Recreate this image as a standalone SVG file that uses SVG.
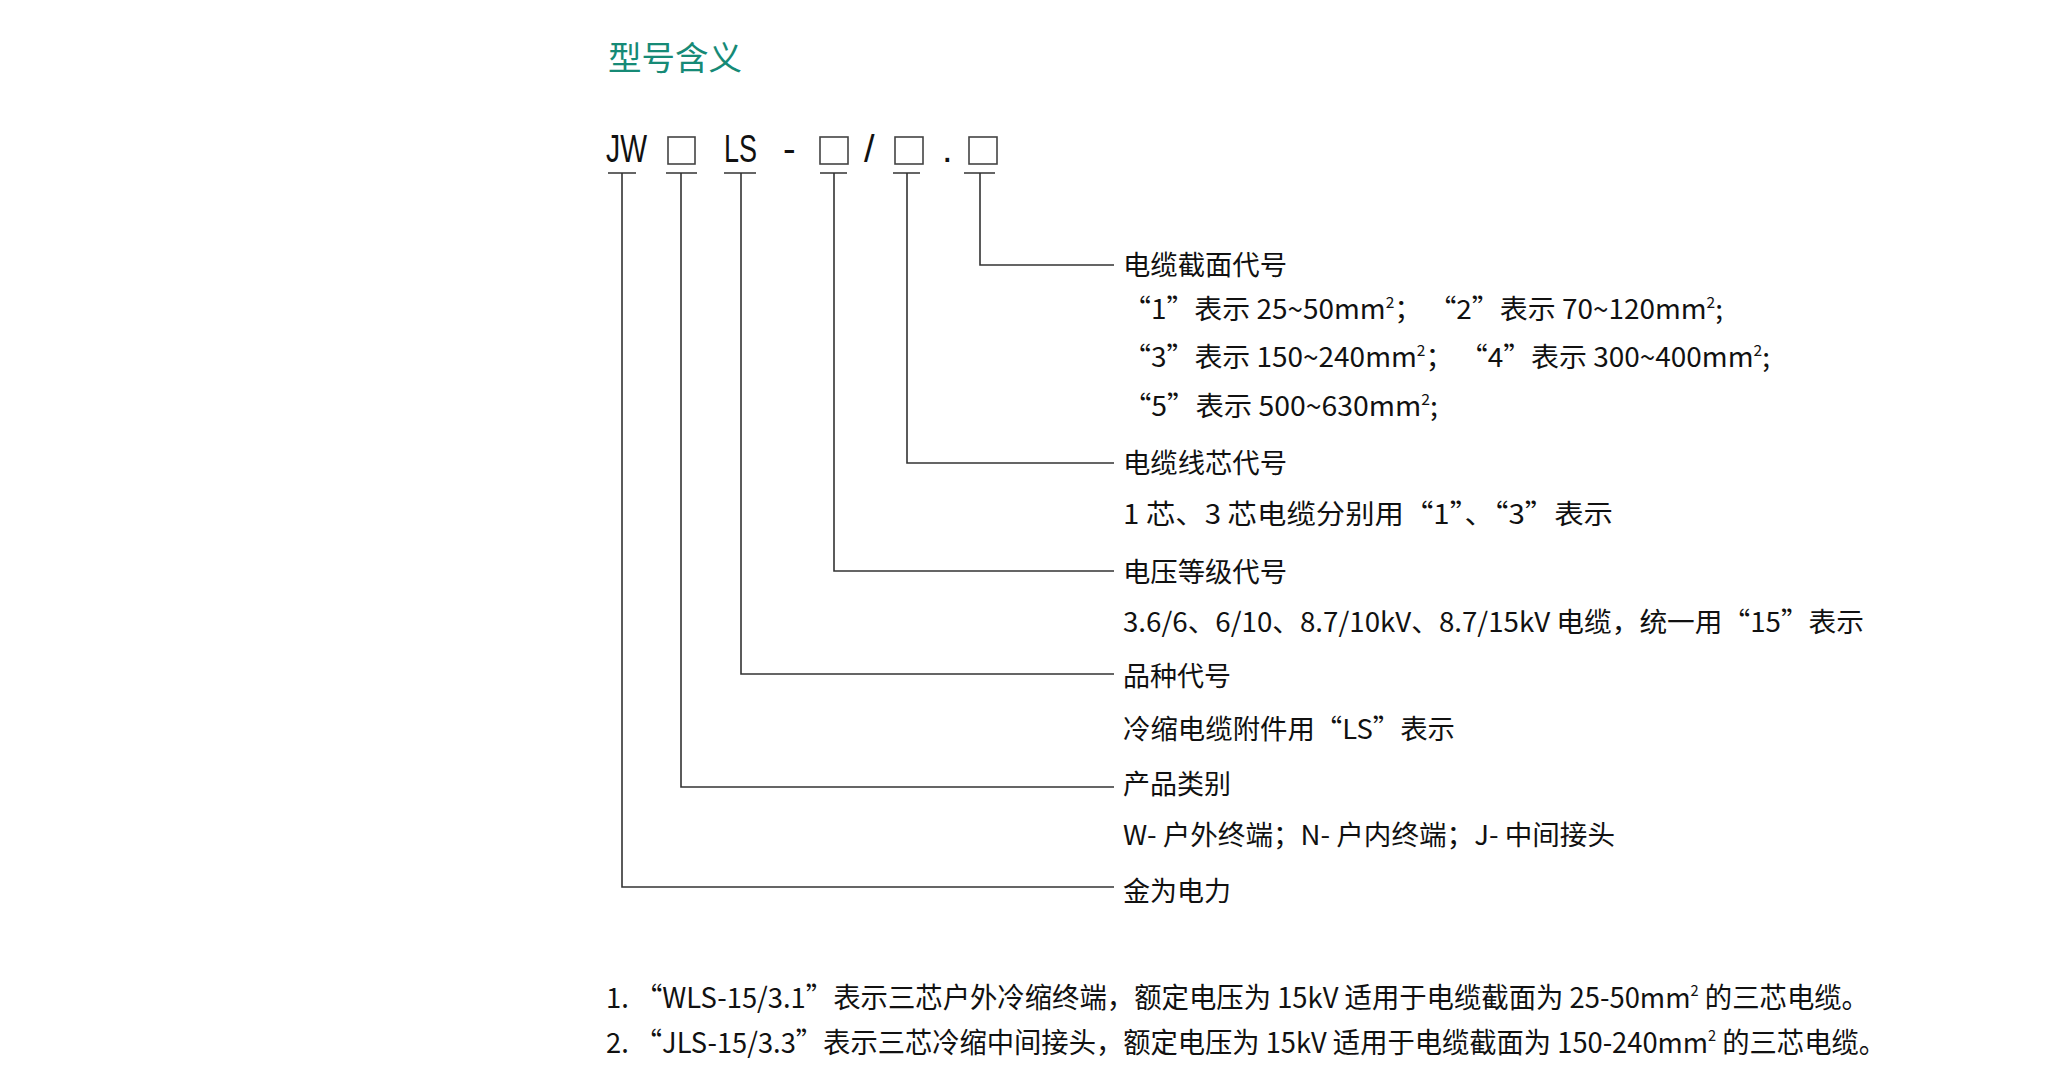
<svg xmlns="http://www.w3.org/2000/svg" width="2067" height="1079" viewBox="0 0 2067 1079">
<style>
.t{font-family:"Noto Sans CJK SC",sans-serif;font-size:27px;fill:#111}
.f{font-family:"Noto Sans CJK SC",sans-serif;font-size:28px;fill:#111}
.h{font-family:"Liberation Sans Narrow","Liberation Sans",sans-serif;font-size:38px;fill:#111}
.title{font-family:"Noto Sans CJK SC",sans-serif;font-size:33px;fill:#168a76}
.box{fill:none;stroke:#444;stroke-width:1.6}
.ln{fill:none;stroke:#333;stroke-width:1.6}
.sup{font-size:15px}
</style>
<rect width="2067" height="1079" fill="#fff"/>
<g id="title"><text class="title" x="608" y="70" textLength="134" lengthAdjust="spacingAndGlyphs">型号含义</text></g>
<g id="header">
<text class="h" x="606" y="162" textLength="41" lengthAdjust="spacingAndGlyphs">JW</text>
<rect class="box" x="668" y="137" width="27" height="27"/>
<text class="h" x="724" y="162" textLength="33" lengthAdjust="spacingAndGlyphs">LS</text>
<text class="h" x="783" y="162">-</text>
<rect class="box" x="820" y="137" width="28" height="27"/>
<text class="h" x="864" y="162">/</text>
<rect class="box" x="895" y="137" width="28" height="27"/>
<text class="h" x="942" y="162">.</text>
<rect class="box" x="969" y="137" width="28" height="27"/>
</g>
<g id="connectors">
<path class="ln" d="M964 173H995M980 173V265H1114"/>
<path class="ln" d="M893 173H920M907 173V463H1114"/>
<path class="ln" d="M820 173H847M834 173V571H1114"/>
<path class="ln" d="M724 173H756M741 173V674H1114"/>
<path class="ln" d="M666 173H697M681 173V787H1114"/>
<path class="ln" d="M608 173H636M622 173V887H1114"/>
</g>
<g id="n-section">
<text class="t" x="1123" y="275" textLength="164" lengthAdjust="spacingAndGlyphs">电缆截面代号</text>
<text class="t" x="1123" y="319" textLength="600" lengthAdjust="spacingAndGlyphs">“1”表示 25~50mm<tspan class="sup" dy="-11">2</tspan><tspan dy="11">； “2”表示 70~120mm</tspan><tspan class="sup" dy="-11">2</tspan><tspan dy="11">;</tspan></text>
<text class="t" x="1123" y="367" textLength="647" lengthAdjust="spacingAndGlyphs">“3”表示 150~240mm<tspan class="sup" dy="-11">2</tspan><tspan dy="11">； “4”表示 300~400mm</tspan><tspan class="sup" dy="-11">2</tspan><tspan dy="11">;</tspan></text>
<text class="t" x="1123" y="416" textLength="315" lengthAdjust="spacingAndGlyphs">“5”表示 500~630mm<tspan class="sup" dy="-11">2</tspan><tspan dy="11">;</tspan></text>
</g>
<g id="n-core">
<text class="t" x="1123" y="473" textLength="164" lengthAdjust="spacingAndGlyphs">电缆线芯代号</text>
<text class="t" x="1123" y="524" textLength="490" lengthAdjust="spacingAndGlyphs">1 芯、3 芯电缆分别用“1”、“3”表示</text>
</g>
<g id="n-voltage">
<text class="t" x="1123" y="582" textLength="164" lengthAdjust="spacingAndGlyphs">电压等级代号</text>
<text class="t" x="1123" y="632" textLength="741" lengthAdjust="spacingAndGlyphs">3.6/6、6/10、8.7/10kV、8.7/15kV 电缆，统一用“15”表示</text>
</g>
<g id="n-variety">
<text class="t" x="1123" y="686" textLength="108" lengthAdjust="spacingAndGlyphs">品种代号</text>
<text class="t" x="1123" y="739" textLength="332" lengthAdjust="spacingAndGlyphs">冷缩电缆附件用“LS”表示</text>
</g>
<g id="n-category">
<text class="t" x="1123" y="794" textLength="108" lengthAdjust="spacingAndGlyphs">产品类别</text>
<text class="t" x="1123" y="845" textLength="492" lengthAdjust="spacingAndGlyphs">W- 户外终端；N- 户内终端；J- 中间接头</text>
</g>
<g id="n-brand">
<text class="t" x="1123" y="901" textLength="108" lengthAdjust="spacingAndGlyphs">金为电力</text>
</g>
<g id="notes">
<text class="f" x="606" y="1008" textLength="1263" lengthAdjust="spacingAndGlyphs">1. “WLS-15/3.1”表示三芯户外冷缩终端，额定电压为 15kV 适用于电缆截面为 25-50mm<tspan class="sup" dy="-12">2</tspan><tspan dy="12"> 的三芯电缆。</tspan></text>
<text class="f" x="606" y="1053" textLength="1280" lengthAdjust="spacingAndGlyphs">2. “JLS-15/3.3”表示三芯冷缩中间接头，额定电压为 15kV 适用于电缆截面为 150-240mm<tspan class="sup" dy="-12">2</tspan><tspan dy="12"> 的三芯电缆。</tspan></text>
</g>
</svg>
